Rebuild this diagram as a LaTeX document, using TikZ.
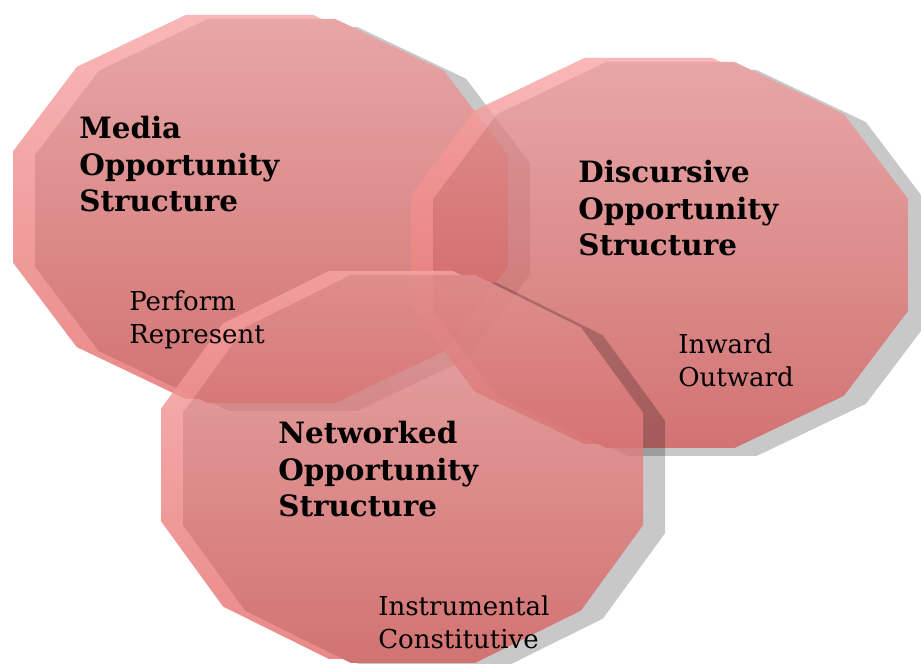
\documentclass[tikz,border=0pt]{standalone}
\usepackage{fontspec}
\setmainfont{DejaVu Serif}
\usepackage{tikz}
\definecolor{BodyTop}{RGB}{226,144,144}
\definecolor{BodyBottom}{RGB}{199,80,80}
\definecolor{RimTop}{RGB}{248,165,165}
\definecolor{RimBottom}{RGB}{228,108,108}
% twelve-sided outline: centre x, centre y, half width, half height
\newcommand{\Dodeca}[4]{({#1+(#3)*0.27},{#2+(#4)})
  \foreach \u/\v in {0.73/0.73,1/0.29,1/-0.29,0.73/-0.73,0.27/-1,-0.27/-1,-0.73/-0.73,-1/-0.29,-1/0.29,-0.73/0.73,-0.27/1}
  {-- ({#1+(#3)*\u},{#2+(#4)*\v})} -- cycle}
\newcommand{\Bubble}[4]{%
  \begin{scope}[transparency group,opacity=0.8]
    % shadow
    \fill[black,opacity=0.27] \Dodeca{#1+22}{#2-8}{#3}{#4};
    % rim
    \shade[top color=RimTop,bottom color=RimBottom] \Dodeca{#1-22}{#2+4}{#3}{#4};
    % body
    \shade[top color=BodyTop,bottom color=BodyBottom] \Dodeca{#1}{#2}{#3}{#4};
  \end{scope}}

\begin{document}
\begin{tikzpicture}[x=0.025cm,y=0.025cm,
  title/.style={anchor=north west,inner sep=0pt,align=left,font=\fontsize{20.9}{26}\selectfont\bfseries},
  sub/.style={anchor=north west,inner sep=0pt,align=left,font=\fontsize{18.5}{23.5}\selectfont}]
  \useasboundingbox (0,0) rectangle (921,664);
  \clip (0,0) rectangle (921,664);
  \Bubble{271.5}{453}{236.5}{192}
  \Bubble{670.5}{409}{237.5}{193}
  \Bubble{413}{195}{230}{194}
  \node[title] (media) at (79,548) {Media\\Opportunity\\Structure};
  \node[sub] (mediasub) at (129,374) {Perform\\Represent};
  \node[title] (disc) at (578,504) {Discursive\\Opportunity\\Structure};
  \node[sub] (discsub) at (678,331) {Inward\\Outward};
  \node[title] (netw) at (278,243) {Networked\\Opportunity\\Structure};
  \node[sub] (netwsub) at (378,69) {Instrumental\\Constitutive};
\end{tikzpicture}
\end{document}
